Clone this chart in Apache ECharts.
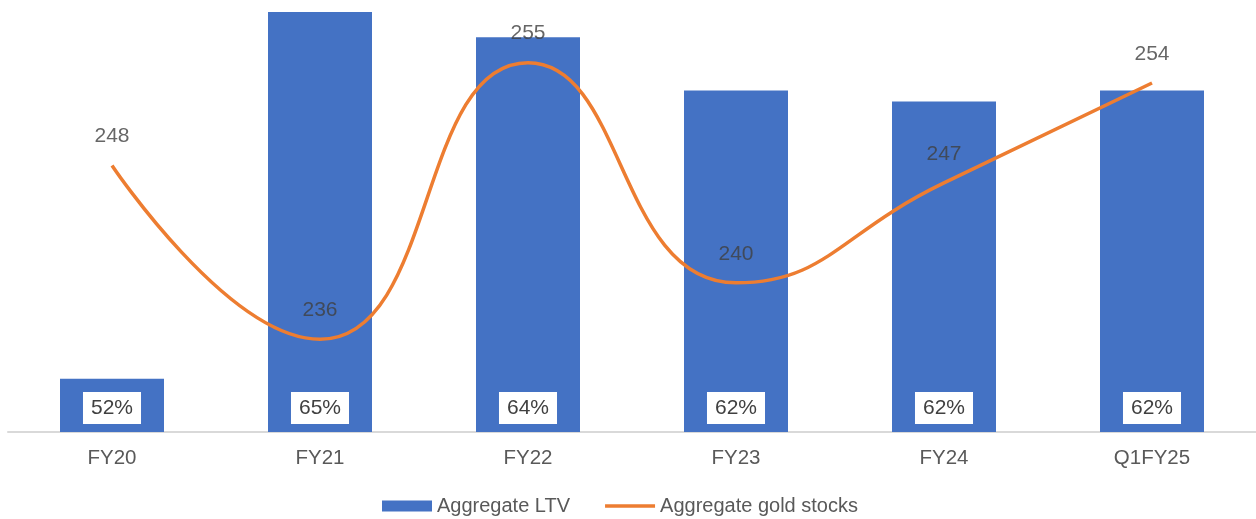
<!DOCTYPE html>
<html>
<head>
<meta charset="utf-8">
<script src="https://cdn.jsdelivr.net/npm/echarts@6/dist/echarts.min.js"></script>
<style>
html,body{margin:0;padding:0;background:#fff;}
#chart{width:1256px;height:519px;}
</style>
</head>
<body>
<div id="chart"></div>
<script>
const categories = ['FY20', 'FY21', 'FY22', 'FY23', 'FY24', 'Q1FY25'];
const ltvValues = [51.9, 65.0, 64.1, 62.2, 61.8, 62.2];
const goldValues = [248.0, 236.0, 255.1, 239.9, 246.8, 253.7];
const seriesNames = ['Aggregate LTV', 'Aggregate gold stocks'];

const chart = echarts.init(document.getElementById('chart'));
const font = 'Liberation Sans, Arial, sans-serif';
chart.setOption({
  animation: false,
  textStyle: { fontFamily: font },
  grid: { left: 8, right: 0, top: 12, height: 420, containLabel: false },
  legend: {
    left: 377, top: 491,
    itemWidth: 50, itemHeight: 11, itemGap: 35,
    textStyle: { fontSize: 20, color: '#595959', fontFamily: font },
    data: [
      { name: seriesNames[0], icon: 'rect' },
      { name: seriesNames[1], icon: 'path://M0,0L0,0M0,3.7L50,3.7L50,7.3L0,7.3ZM0,11L0,11', itemStyle: { color: '#ED7D31' } }
    ]
  },
  xAxis: {
    type: 'category',
    data: categories,
    axisLine: { lineStyle: { color: '#D9D9D9', width: 2 } },
    axisTick: { show: false },
    axisLabel: { fontSize: 20.5, color: '#595959', margin: 16, fontFamily: font }
  },
  yAxis: [
    { type: 'value', min: 50, max: 65, show: false, splitLine: { show: false } },
    { type: 'value', min: 229.6, max: 258.6, show: false, splitLine: { show: false } }
  ],
  series: [
    {
      name: seriesNames[0],
      type: 'bar',
      data: ltvValues,
      barWidth: '50%',
      itemStyle: { color: '#4472C4' },
      label: {
        show: true,
        position: 'insideBottom',
        distance: 8,
        formatter: p => Math.round(p.value) + '%',
        fontSize: 21,
        color: '#404040',
        backgroundColor: '#FFFFFF',
        padding: [6, 8, 5, 8],
        fontFamily: font
      }
    },
    {
      name: seriesNames[1],
      type: 'line',
      yAxisIndex: 1,
      data: goldValues,
      smooth: 0.5,
      symbol: 'none',
      lineStyle: { color: '#ED7D31', width: 3.5 },
      itemStyle: { color: '#ED7D31' },
      z: 3
    },
    {
      name: 'labels',
      type: 'scatter',
      yAxisIndex: 1,
      data: goldValues,
      symbolSize: 1,
      itemStyle: { color: 'rgba(0,0,0,0)' },
      silent: true,
      label: {
        show: true,
        position: 'top',
        distance: 18,
        formatter: p => Math.round(p.value),
        fontSize: 21,
        color: '#404040',
        fontFamily: font
      },
      z: 4
    }
  ]
});
</script>
</body>
</html>
